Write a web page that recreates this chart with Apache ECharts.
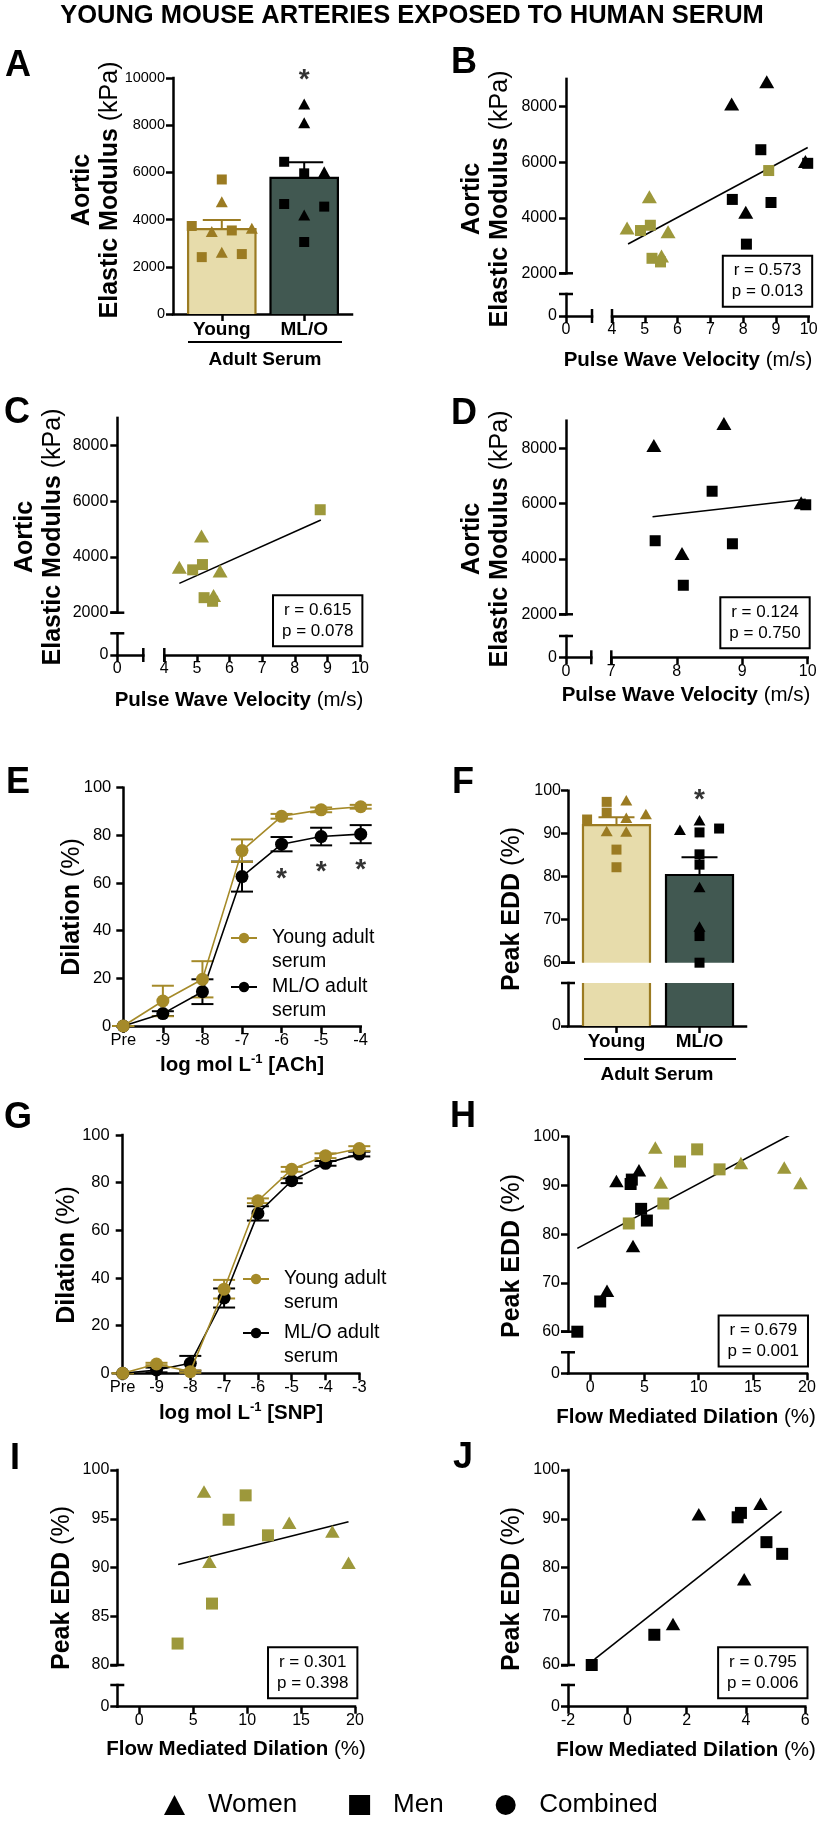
<!DOCTYPE html>
<html>
<head>
<meta charset="utf-8">
<script src="https://cdn.jsdelivr.net/npm/echarts@6/dist/echarts.min.js"></script>
<style>
  html, body { margin: 0; padding: 0; background: #fff; }
  #main { width: 825px; height: 1822px; }
</style>
</head>
<body>
<div id="main"></div>
<script>
// ---------------- data ----------------
// pulse wave velocity (m/s) vs aortic elastic modulus (kPa)
const pwvYoungWomen = [[4.46, 3630], [5.14, 4760], [5.71, 3500], [5.51, 2620]];
const pwvYoungMen = [[4.87, 3540], [5.17, 3730], [5.22, 2540], [5.48, 2410], [8.78, 5700]];
const pwvOldWomen = [[8.72, 8900], [7.65, 8100], [9.90, 6030], [8.08, 4200]];
const pwvOldMen = [[8.54, 6450], [9.97, 5960], [7.67, 4660], [8.85, 4550], [8.10, 3050]];
// horizontal jitter slot of each point in panel A (same order as above)
const jitModYoungWomen = [3, 0, -1, 0];
const jitModYoungMen = [1, -3, 2, -2, 0];
const jitModOldWomen = [0, 0, 2, 0];
const jitModOldMen = [-2, 0, -2, 2, 0];

const barCats = ['Young', 'ML/O'];
const modMean = [3600, 5770];
const modSem = [380, 660];

// regression lines (end points) and stats
const fitB = [[4.49, 3057], [9.97, 6529]];
const fitC = [[4.46, 3054], [8.80, 5330]];
const fitD = [[7.63, 5530], [9.97, 6160]];
const statB = ['0.573', '0.013'];
const statC = ['0.615', '0.078'];
const statD = ['0.124', '0.750'];

// ACh dose response
const achCats = ['Pre', '-9', '-8', '-7', '-6', '-5', '-4'];
const achYoung = [0, 10.5, 19.6, 73.6, 88.0, 90.7, 92.0];
const achYoungSem = [0, 6.4, 7.6, 4.7, 1.0, 1.0, 0.8];
const achOld = [0, 5.2, 14.4, 62.7, 76.3, 79.5, 80.5];
const achOldSem = [0, 1.0, 5.2, 6.3, 3.0, 3.7, 3.8];
const achStars = [[4, 64.8], [5, 68.0], [6, 68.5]];

// SNP dose response
const snpCats = ['Pre', '-9', '-8', '-7', '-6', '-5', '-4', '-3'];
const snpYoung = [0, 3.9, 0.7, 35.3, 72.4, 85.6, 91.3, 94.3];
const snpYoungSem = [0, 0.5, 0.5, 3.9, 1.0, 1.0, 1.0, 1.0];
const snpOld = [0, 1.4, 4.2, 31.6, 67.1, 80.8, 88.1, 92.0];
const snpOldSem = [0, 1.0, 3.1, 4.0, 3.0, 1.0, 1.0, 1.0];

// flow mediated dilation (%) vs peak EDD (%)
const fmdYoungWomen = [[6.0, 97.8], [6.5, 90.6], [13.9, 94.6], [17.9, 93.7], [19.4, 90.5]];
const fmdYoungMen = [[3.55, 82.2], [6.74, 86.3], [8.28, 94.9], [9.86, 97.4], [11.93, 93.3]];
const fmdOldWomen = [[1.54, 68.4], [2.41, 90.9], [3.94, 77.6], [4.49, 93.1]];
const fmdOldMen = [[-1.2, 60.0], [0.91, 66.2], [3.72, 90.3], [3.83, 91.2], [4.69, 85.2], [5.22, 82.8]];
const jitEddYoungWomen = [1, -1, 3, 1, 1];
const jitEddYoungMen = [0, 0, -1, -1, -3];
const jitEddOldWomen = [0, -2, 0, 0];
const jitEddOldMen = [0, 0, 0, 2, 0, 0];

const eddMean = [92.0, 80.4];
const eddSem = [1.8, 4.1];

const fitH = [[-1.2, 77.1], [19.4, 101.5]];
const fitI = [[3.6, 90.3], [19.4, 94.7]];
const fitJ = [[-1.1, 61.2], [5.2, 91.5]];
const statH = ['0.679', '0.001'];
const statI = ['0.301', '0.398'];
const statJ = ['0.795', '0.006'];

// ---------------- style ----------------
const FONT = '"Liberation Sans", Arial, Helvetica, sans-serif';
const INK = '#000';
const GOLD = '#9b7b22';       // points in bar panels, young bar edge
const OLIVE = '#9d983b';      // scatter panels
const GOLD_LINE = '#a58a29';  // dose response
const YOUNG_FILL = '#e7dcab';
const OLD_FILL = '#415851';
const AXW = 2.5;

const grid = [], xAxis = [], yAxis = [], series = [], graphic = [];

function valueAxis(min, max, ticks, fontSize, margin, label) {
  const has = !!(ticks && ticks.length);
  return {
    type: 'value', min: min, max: max,
    axisLine: { show: true, onZero: false, lineStyle: { color: INK, width: AXW, cap: 'square' } },
    axisTick: { show: has, customValues: ticks, length: 7, lineStyle: { color: INK, width: AXW } },
    axisLabel: Object.assign({ show: has, customValues: ticks, color: INK, fontFamily: FONT, fontSize: fontSize, margin: margin, formatter: v => String(v) }, label || {}),
    splitLine: { show: false }
  };
}
const hiddenAxis = (min, max) => ({ type: 'value', min: min, max: max, show: false });

function doseAxis(cats) {
  return {
    type: 'category', data: cats, boundaryGap: false,
    axisLine: { show: true, onZero: false, lineStyle: { color: INK, width: AXW, cap: 'square' } },
    axisTick: { show: true, interval: 0, length: 7, lineStyle: { color: INK, width: AXW } },
    axisLabel: { interval: 0, color: INK, fontFamily: FONT, fontSize: 16.5, margin: 6 },
    splitLine: { show: false }
  };
}

function addGrid(l, t, r, b, xa, ya) {
  grid.push({ left: l, top: t, width: r - l, height: b - t, containLabel: false, outerBoundsMode: 'none' });
  const i = grid.length - 1;
  xa.gridIndex = i; ya.gridIndex = i;
  xAxis.push(xa); yAxis.push(ya);
  return i;
}

// --- graphic helpers (axis breaks, titles, letters) ---
function seg(x1, y1, x2, y2, w) {
  graphic.push({ type: 'line', silent: true, z: 10, shape: { x1, y1, x2, y2 }, style: { stroke: INK, lineWidth: w || AXW } });
}
const capH = (x, y) => seg(x - 7, y, x + 7, y);
const capV = (x, y) => seg(x, y - 7, x, y + 7);

function axisTitle(x, y, text, fs, vertical) {
  const lh = fs + 3;
  graphic.push({
    type: 'text', silent: true, x: x, y: y, rotation: vertical ? Math.PI / 2 : 0,
    style: {
      text: text, align: 'center', verticalAlign: 'middle', fill: INK,
      rich: {
        b: { fontFamily: FONT, fontWeight: 'bold', fontSize: fs, lineHeight: lh, fill: INK },
        n: { fontFamily: FONT, fontWeight: 'normal', fontSize: fs, lineHeight: lh, fill: INK },
        s: { fontFamily: FONT, fontWeight: 'bold', fontSize: Math.round(fs * 0.62), lineHeight: lh, verticalAlign: 'top', fill: INK }
      }
    }
  });
}
function letter(x, y, t) {
  graphic.push({ type: 'text', silent: true, x, y, style: { text: t, align: 'center', verticalAlign: 'middle', fill: INK, fontFamily: FONT, fontWeight: 'bold', fontSize: 36 } });
}
function statBox(cx, cy, s) {
  graphic.push({
    type: 'text', silent: true, x: cx, y: cy, z: 10,
    style: {
      text: 'r = ' + s[0] + '\np = ' + s[1], align: 'center', verticalAlign: 'middle', fill: INK,
      fontFamily: FONT, fontSize: 17, lineHeight: 21, padding: [4, 8, 3, 8],
      borderColor: INK, borderWidth: 2, backgroundColor: '#fff'
    }
  });
}

// --- series helpers ---
function scatter(g, name, symbol, size, data, color) {
  series.push({ type: 'scatter', name, xAxisIndex: g, yAxisIndex: g, symbol, symbolSize: size, data, clip: false, z: 4, silent: true, itemStyle: { color: color, opacity: 1 } });
}
function fitLine(g, pts) {
  series.push({ type: 'line', xAxisIndex: g, yAxisIndex: g, data: pts, symbol: 'none', silent: true, z: 3, lineStyle: { color: INK, width: 1.6 } });
}
function stars(g, pts) {
  series.push({
    type: 'scatter', xAxisIndex: g, yAxisIndex: g, data: pts, symbolSize: 1, clip: false, silent: true, z: 5,
    itemStyle: { color: 'transparent' },
    label: { show: true, position: 'inside', formatter: '*', color: INK, fontFamily: FONT, fontWeight: 'bold', fontSize: 28, offset: [0, 8] }
  });
}
function jitter(arr, slots, center, unit) {
  return arr.map((p, i) => [center + slots[i] * unit, p[1]]);
}
function errBars(g, xs, means, sems, colors, half, upOnly) {
  series.push({
    type: 'custom', xAxisIndex: g, yAxisIndex: g, z: 2, silent: true, clip: false,
    encode: { x: 0, y: 1 },
    data: means.map((m, i) => [xs[i], m, sems[i]]),
    renderItem: function (params, api) {
      const c = Array.isArray(colors) ? colors[params.dataIndex] : colors;
      const x = api.value(0), m = api.value(1), s = api.value(2);
      const hi = api.coord([x, m + s]);
      const lo = api.coord([x, upOnly ? m : m - s]);
      const st = { stroke: c, lineWidth: 2 };
      const kids = [
        { type: 'line', shape: { x1: hi[0], y1: hi[1], x2: lo[0], y2: lo[1] }, style: st },
        { type: 'line', shape: { x1: hi[0] - half, y1: hi[1], x2: hi[0] + half, y2: hi[1] }, style: st }
      ];
      if (!upOnly) kids.push({ type: 'line', shape: { x1: lo[0] - half, y1: lo[1], x2: lo[0] + half, y2: lo[1] }, style: st });
      return { type: 'group', children: kids };
    }
  });
}
// bars drawn open where the axis is broken
function bars(g, means, fills, edges, half) {
  series.push({
    type: 'custom', xAxisIndex: g, yAxisIndex: g, z: 1, silent: true, clip: false,
    encode: { x: 0, y: 1 },
    data: means.map((m, i) => [i + 1, m]),
    renderItem: function (params, api) {
      const cs = params.coordSys;
      const i = params.dataIndex;
      const pv = api.coord([api.value(0), api.value(1)]);
      const p0 = api.coord([api.value(0), 0]);
      const top = Math.max(pv[1], cs.y);
      const bot = Math.min(p0[1], cs.y + cs.height);
      const l = pv[0] - half, r = pv[0] + half;
      const st = { stroke: edges[i], lineWidth: 2.2, fill: null };
      const kids = [{ type: 'rect', shape: { x: l, y: top, width: r - l, height: bot - top }, style: { fill: fills[i] } }];
      if (pv[1] >= cs.y) {
        kids.push({ type: 'polyline', shape: { points: [[l, bot], [l, top], [r, top], [r, bot]] }, style: st });
      } else {
        kids.push({ type: 'line', shape: { x1: l, y1: bot, x2: l, y2: top }, style: st });
        kids.push({ type: 'line', shape: { x1: r, y1: bot, x2: r, y2: top }, style: st });
      }
      return { type: 'group', children: kids };
    }
  });
}

// ---------------- title ----------------
graphic.push({ type: 'text', silent: true, x: 412, y: 16, style: { text: 'YOUNG MOUSE ARTERIES EXPOSED TO HUMAN SERUM', align: 'center', verticalAlign: 'middle', fill: INK, fontFamily: FONT, fontWeight: 'bold', fontSize: 25.5 } });

// ---------------- A ----------------
const catLabel = { fontWeight: 'bold', formatter: v => barCats[Math.round(v) - 1] || '' };
const gA = addGrid(173, 78, 352, 314,
  valueAxis(0.408, 2.58, [1, 2], 19, 6, catLabel),
  valueAxis(0, 10000, [0, 2000, 4000, 6000, 8000, 10000], 14.5, 8));
bars(gA, modMean, [YOUNG_FILL, OLD_FILL], [GOLD, INK], 33.7);
errBars(gA, [1, 2], modMean, modSem, [GOLD, INK], 19, true);
const JA = 0.1215;
scatter(gA, 'Women', 'triangle', [12, 11], jitter(pwvYoungWomen, jitModYoungWomen, 1, JA), GOLD);
scatter(gA, 'Men', 'rect', 10, jitter(pwvYoungMen, jitModYoungMen, 1, JA), GOLD);
scatter(gA, 'Women', 'triangle', [12, 11], jitter(pwvOldWomen, jitModOldWomen, 2, JA), INK);
scatter(gA, 'Men', 'rect', 10, jitter(pwvOldMen, jitModOldMen, 2, JA), INK);
stars(gA, [[2, 10250]]);
seg(188, 342, 342, 342, 2.2);
axisTitle(265, 360, '{b|Adult Serum}', 19);
axisTitle(96, 190, '{b|Aortic}\n{b|Elastic Modulus}{n| (kPa)}', 25, true);
letter(18, 66, 'A');

// ---------------- B, C, D ----------------
function pwvPanel(p) {
  const unit = (p.rx2 - p.rx1) / (p.xmax - p.xmin);
  const hMin = p.xmin - (p.rx1 - p.ax) / unit;
  const up = addGrid(p.ax, p.y9000, p.rx2, p.y2000, hiddenAxis(hMin, p.xmax), valueAxis(2000, 9000, [2000, 4000, 6000, 8000], 16, 9));
  addGrid(p.ax, p.lowTop, p.lx2, p.y0, valueAxis(0, 1, [0], 16, 6), valueAxis(0, 1, [0], 16, 9));
  addGrid(p.rx1, p.lowTop, p.rx2, p.y0, valueAxis(p.xmin, p.xmax, p.xticks, 16, 6), hiddenAxis(0, 1));
  capH(p.ax, p.y2000); capH(p.ax, p.lowTop); capV(p.lx2, p.y0); capV(p.rx1, p.y0);
  return up;
}
const TRI = [15, 13], SQ = 11;

const gB = pwvPanel({ ax: 566, lx2: 592, rx1: 612, rx2: 808.7, xmin: 4, xmax: 10, xticks: [4, 5, 6, 7, 8, 9, 10], y9000: 78.9, y2000: 273.3, lowTop: 294, y0: 316 });
fitLine(gB, fitB);
scatter(gB, 'Women', 'triangle', TRI, pwvOldWomen, INK);
scatter(gB, 'Men', 'rect', SQ, pwvOldMen, INK);
scatter(gB, 'Women', 'triangle', TRI, pwvYoungWomen, OLIVE);
scatter(gB, 'Men', 'rect', SQ, pwvYoungMen, OLIVE);
statBox(767.5, 281.3, statB);
axisTitle(486, 199, '{b|Aortic}\n{b|Elastic Modulus}{n| (kPa)}', 25, true);
axisTitle(688, 360, '{b|Pulse Wave Velocity}{n| (m/s)}', 20.5);
letter(464, 63, 'B');

const gC = pwvPanel({ ax: 117.3, lx2: 143.3, rx1: 164.3, rx2: 360, xmin: 4, xmax: 10, xticks: [4, 5, 6, 7, 8, 9, 10], y9000: 417.9, y2000: 612.7, lowTop: 633.3, y0: 655 });
fitLine(gC, fitC);
scatter(gC, 'Women', 'triangle', TRI, pwvYoungWomen, OLIVE);
scatter(gC, 'Men', 'rect', SQ, pwvYoungMen, OLIVE);
statBox(317.7, 620.8, statC);
axisTitle(39, 537, '{b|Aortic}\n{b|Elastic Modulus}{n| (kPa)}', 25, true);
axisTitle(239, 700, '{b|Pulse Wave Velocity}{n| (m/s)}', 20.5);
letter(17, 413, 'C');

const gD = pwvPanel({ ax: 566, lx2: 591.3, rx1: 611.3, rx2: 807.7, xmin: 7, xmax: 10, xticks: [7, 8, 9, 10], y9000: 420.7, y2000: 614.3, lowTop: 636, y0: 657.3 });
fitLine(gD, fitD);
scatter(gD, 'Women', 'triangle', TRI, pwvOldWomen, INK);
scatter(gD, 'Men', 'rect', SQ, pwvOldMen, INK);
statBox(765, 622.8, statD);
axisTitle(486, 539, '{b|Aortic}\n{b|Elastic Modulus}{n| (kPa)}', 25, true);
axisTitle(686, 695, '{b|Pulse Wave Velocity}{n| (m/s)}', 20.5);
letter(464, 414, 'D');

// ---------------- E, G ----------------
function dosePanel(l, t, r, b, cats, young, youngSem, old, oldSem, labelMargin) {
  const g = addGrid(l, t, r, b, doseAxis(cats), valueAxis(0, 100, [0, 20, 40, 60, 80, 100], 16.5, labelMargin));
  const idx = cats.map((c, i) => i);
  errBars(g, idx, old, oldSem, INK, 11, false);
  errBars(g, idx, young, youngSem, GOLD_LINE, 11, false);
  series.push({ type: 'line', name: 'ML/O adult\nserum', xAxisIndex: g, yAxisIndex: g, data: old, symbol: 'circle', symbolSize: 13, z: 3, silent: true,
    itemStyle: { color: INK, borderWidth: 0 }, lineStyle: { color: INK, width: 1.6 } });
  series.push({ type: 'line', name: 'Young adult\nserum', xAxisIndex: g, yAxisIndex: g, data: young, symbol: 'circle', symbolSize: 13, z: 4, silent: true,
    itemStyle: { color: GOLD_LINE, borderWidth: 0 }, lineStyle: { color: GOLD_LINE, width: 1.6 } });
  return g;
}
const gE = dosePanel(123.3, 787.7, 360.7, 1026, achCats, achYoung, achYoungSem, achOld, achOldSem, 12);
stars(gE, achStars);
axisTitle(72, 907, '{b|Dilation}{n| (%)}', 25, true);
axisTitle(242, 1065, '{b|log mol L}{s|-1}{b| [ACh]}', 20.5);
letter(18, 783, 'E');

const gG = dosePanel(122.7, 1135, 359.3, 1373.3, snpCats, snpYoung, snpYoungSem, snpOld, snpOldSem, 13);
axisTitle(67, 1255, '{b|Dilation}{n| (%)}', 25, true);
axisTitle(241, 1413, '{b|log mol L}{s|-1}{b| [SNP]}', 20.5);
letter(18, 1118, 'G');
// empty series so the figure legend can list the circle symbol
series.push({ type: 'scatter', name: 'Combined', xAxisIndex: gG, yAxisIndex: gG, data: [], symbol: 'circle', itemStyle: { color: INK, opacity: 1 } });

// ---------------- F ----------------
const gFu = addGrid(568, 790.7, 746, 962.7, hiddenAxis(0.416, 2.56), valueAxis(60, 100, [60, 70, 80, 90, 100], 16, 7));
const gFl = addGrid(568, 983, 746, 1026, valueAxis(0.416, 2.56, [1, 2], 19, 6, catLabel), valueAxis(0, 10, [0], 16, 7));
bars(gFu, eddMean, [YOUNG_FILL, OLD_FILL], [GOLD, INK], 33.5);
bars(gFl, eddMean, [YOUNG_FILL, OLD_FILL], [GOLD, INK], 33.5);
errBars(gFu, [1, 2], eddMean, eddSem, [GOLD, INK], 18, true);
const JF = 0.118;
scatter(gFu, 'Women', 'triangle', [12, 10.5], jitter(fmdYoungWomen, jitEddYoungWomen, 1, JF), GOLD);
scatter(gFu, 'Men', 'rect', 10, jitter(fmdYoungMen, jitEddYoungMen, 1, JF), GOLD);
scatter(gFu, 'Women', 'triangle', [12, 10.5], jitter(fmdOldWomen, jitEddOldWomen, 2, JF), INK);
scatter(gFu, 'Men', 'rect', 10, jitter(fmdOldMen, jitEddOldMen, 2, JF), INK);
stars(gFu, [[2, 99.7]]);
capH(568, 962.7); capH(568, 983);
seg(584, 1059, 736, 1059, 2.2);
axisTitle(657, 1075, '{b|Adult Serum}', 19);
axisTitle(512, 909, '{b|Peak EDD}{n| (%)}', 25, true);
letter(463, 783, 'F');

// ---------------- H, I, J ----------------
function eddPanel(p) {
  const up = addGrid(p.ax, p.yTop, p.x2, p.yBreak, hiddenAxis(p.xmin, p.xmax), valueAxis(p.ymin, 100, p.yticks, 16, 8));
  addGrid(p.ax, p.lowTop, p.x2, p.y0, valueAxis(p.xmin, p.xmax, p.xticks, 16, 6), valueAxis(0, 1, [0], 16, 8));
  capH(p.ax, p.yBreak); capH(p.ax, p.lowTop);
  return up;
}
const TRI2 = [14.5, 12.5], SQ2 = 12;

const gH = eddPanel({ ax: 568, x2: 807, xmin: -2.06, xmax: 20, xticks: [0, 5, 10, 15, 20], yTop: 1136.7, yBreak: 1331.7, ymin: 60, yticks: [60, 70, 80, 90, 100], lowTop: 1352.3, y0: 1373.3 });
fitLine(gH, fitH);
scatter(gH, 'Women', 'triangle', TRI2, fmdYoungWomen, OLIVE);
scatter(gH, 'Men', 'rect', SQ2, fmdYoungMen, OLIVE);
scatter(gH, 'Women', 'triangle', TRI2, fmdOldWomen, INK);
scatter(gH, 'Men', 'rect', SQ2, fmdOldMen, INK);
statBox(763.3, 1341, statH);
axisTitle(512, 1256, '{b|Peak EDD}{n| (%)}', 25, true);
axisTitle(686, 1417, '{b|Flow Mediated Dilation}{n| (%)}', 20.5);
letter(463, 1117, 'H');

const gI = eddPanel({ ax: 117.3, x2: 355, xmin: -2.04, xmax: 20, xticks: [0, 5, 10, 15, 20], yTop: 1470, yBreak: 1665, ymin: 80, yticks: [80, 85, 90, 95, 100], lowTop: 1685, y0: 1706.7 });
fitLine(gI, fitI);
scatter(gI, 'Women', 'triangle', TRI2, fmdYoungWomen, OLIVE);
scatter(gI, 'Men', 'rect', SQ2, fmdYoungMen, OLIVE);
statBox(312.7, 1672.8, statI);
axisTitle(62, 1588, '{b|Peak EDD}{n| (%)}', 25, true);
axisTitle(236, 1749, '{b|Flow Mediated Dilation}{n| (%)}', 20.5);
letter(15, 1459, 'I');

const gJ = eddPanel({ ax: 568, x2: 805.3, xmin: -2, xmax: 6, xticks: [-2, 0, 2, 4, 6], yTop: 1470, yBreak: 1665, ymin: 60, yticks: [60, 70, 80, 90, 100], lowTop: 1685, y0: 1706.7 });
fitLine(gJ, fitJ);
scatter(gJ, 'Women', 'triangle', TRI2, fmdOldWomen, INK);
scatter(gJ, 'Men', 'rect', SQ2, fmdOldMen, INK);
statBox(762.8, 1672.8, statJ);
axisTitle(512, 1589, '{b|Peak EDD}{n| (%)}', 25, true);
axisTitle(686, 1750, '{b|Flow Mediated Dilation}{n| (%)}', 20.5);
letter(463, 1458, 'J');

// ---------------- legends ----------------
// a blank first line keeps the icon level with the first text line
function lineLegend(name, left, cy) {
  return {
    data: [name], left: left, top: cy - 36, padding: 0, itemWidth: 26, itemHeight: 13, itemGap: 0, selectedMode: false,
    formatter: n => ' \n' + n,
    textStyle: { fontFamily: FONT, fontSize: 19.5, color: INK, lineHeight: 24, padding: [0, 0, 0, 10] }
  };
}
const legend = [
  lineLegend('Young adult\nserum', 230, 938),
  lineLegend('ML/O adult\nserum', 230, 987),
  lineLegend('Young adult\nserum', 242, 1279),
  lineLegend('ML/O adult\nserum', 242, 1333),
  {
    data: [
      { name: 'Women', icon: 'triangle', itemStyle: { color: INK, opacity: 1 } },
      { name: 'Men', icon: 'rect', itemStyle: { color: INK, opacity: 1 } },
      { name: 'Combined', icon: 'circle', itemStyle: { color: INK, opacity: 1 } }
    ],
    left: 164, top: 1790, padding: 0, itemWidth: 21, itemHeight: 20, itemGap: 52, selectedMode: false,
    textStyle: { fontFamily: FONT, fontSize: 26, color: INK, lineHeight: 30, padding: [0, 0, 0, 18] }
  }
];

const chart = echarts.init(document.getElementById('main'));
chart.setOption({
  animation: false,
  backgroundColor: '#fff',
  textStyle: { fontFamily: FONT },
  grid: grid,
  xAxis: xAxis,
  yAxis: yAxis,
  legend: legend,
  series: series,
  graphic: graphic
});
</script>
</body>
</html>
